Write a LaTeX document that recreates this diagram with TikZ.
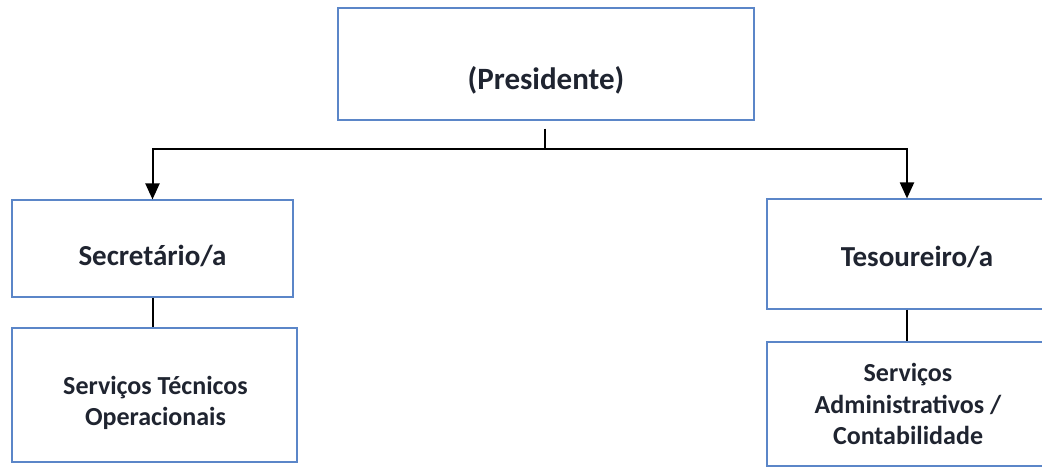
\documentclass[tikz,border=0pt]{standalone}
\usepackage{fontspec}
\setmainfont{Carlito}
\usetikzlibrary{arrows.meta,positioning}
\definecolor{boxblue}{HTML}{5B86C8}
\definecolor{inkdark}{HTML}{1F2430}
\tikzset{
    rolebox/.style={draw=boxblue, line width=1.1pt, fill=white},
    roletext/.style={text=inkdark, font=\fontsize{29}{32}\selectfont\bfseries, align=center, inner sep=0pt},
    servicetext/.style={roletext, font=\fontsize{26}{31.5}\selectfont\bfseries},
    link/.style={draw=black, line width=2pt},
    linkarrow/.style={link, -{Triangle[length=16pt,width=14pt]}},
}

\begin{document}
\begin{tikzpicture}[x=1pt,y=-1pt]
		\useasboundingbox (0,0) rectangle (1042,469);
		\clip (0,0) rectangle (1042,469);
		% The top of the chart
		\node[rolebox, minimum width=416pt, minimum height=112pt,
			label={[roletext,font=\fontsize{31}{34}\selectfont\bfseries,yshift=-16pt]center:(Presidente)}] (pres) at (546,64) {};
		% The two offices under it
		\node[rolebox, minimum width=281pt, minimum height=97pt,
			label={[roletext,yshift=-7pt]center:Secretário/a}] (sec) at (152.5,248.5) {};
		\node[rolebox, minimum width=300pt, minimum height=110pt,
			label={[roletext,yshift=-3pt]center:Tesoureiro/a}] (tes) at (917,254) {};
		% The services below each office
		\node[rolebox, minimum width=285pt, minimum height=134pt,
			label={[servicetext,xshift=1pt,yshift=-8pt]center:Serviços Técnicos\\Operacionais}] (stec) at (154.5,395) {};
		\node[rolebox, minimum width=282pt, minimum height=124pt,
			label={[servicetext]center:Serviços\\Administrativos /\\Contabilidade}] (sadm) at (908,404) {};
		% Connectors
		\coordinate (split) at (545,149);
		\draw[link]  ([xshift=-1pt,yshift=-8pt]pres.south) -- (split) ;
		\draw[linkarrow]  (split) -| (sec.north) ;
		\draw[linkarrow]  (split) -| ([xshift=-10pt]tes.north) ;
		\draw[link]  (sec.south) -- (sec.south |- stec.north) ;
		\draw[link]  ([xshift=-10pt]tes.south) -- ([xshift=-10pt]tes.south |- sadm.north) ;
\end{tikzpicture}
\end{document}
